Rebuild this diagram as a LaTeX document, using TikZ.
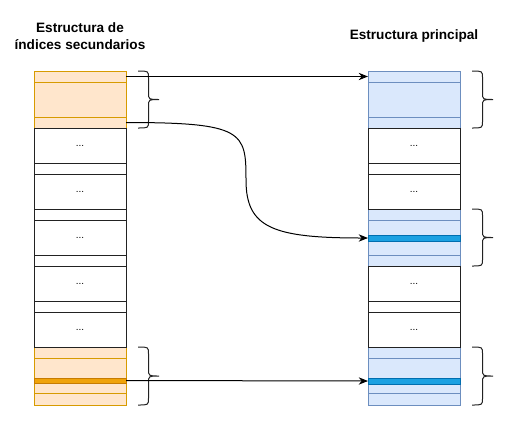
\documentclass[tikz,border=0pt]{standalone}
\usepackage{fontspec}
\setmainfont{Liberation Sans}
\usetikzlibrary{arrows.meta}
\definecolor{orfill}{HTML}{FFE6CC}
\definecolor{orline}{HTML}{D79B00}
\definecolor{orbar}{HTML}{F0A30A}
\definecolor{orbarline}{HTML}{C77C00}
\definecolor{blfill}{HTML}{DAE8FC}
\definecolor{blline}{HTML}{6C8EBF}
\definecolor{blbar}{HTML}{1BA1E2}
\definecolor{blbarline}{HTML}{006EAF}
\definecolor{cellline}{HTML}{222222}
\tikzset{
  cellbase/.style={rectangle, inner sep=0pt, outer sep=0pt, minimum width=69pt, line width=0.75pt, anchor=north west, font=\fontsize{7.5}{8}\selectfont},
  orcell/.style={cellbase, draw=orline, fill=orfill},
  orbarcell/.style={cellbase, draw=orbarline, fill=orbar},
  blcell/.style={cellbase, draw=blline, fill=blfill},
  blbarcell/.style={cellbase, draw=blbarline, fill=blbar},
  whcell/.style={cellbase, draw=cellline, fill=white},
  link/.style={draw=black, line width=0.75pt, -{Stealth[length=7pt,width=5.5pt]}},
  bracestyle/.style={draw=cellline, line width=0.75pt},
  title/.style={font=\fontsize{10.2}{12.75}\selectfont\bfseries, align=center, inner sep=0pt}
}
\newcommand{\mkcell}[6]{\node[#5, minimum height=#4*0.75pt] (#1) at (#2,#3) {#6};}
\newcommand{\mkbrace}[3]{% x0, ytop, ybottom
  \draw[bracestyle] (#1,#2) .. controls (#1+10.5,#2) .. (#1+10.5,#2+7)
    -- (#1+10.5,{(#2+#3)/2-7}) .. controls (#1+10.5,{(#2+#3)/2}) .. (#1+21,{(#2+#3)/2})
    .. controls (#1+10.5,{(#2+#3)/2}) .. (#1+10.5,{(#2+#3)/2+7})
    -- (#1+10.5,#3-7) .. controls (#1+10.5,#3) .. (#1,#3);}
\begin{document}
\begin{tikzpicture}[x=0.75pt,y=-0.75pt]
\useasboundingbox (0,0) rectangle (506,429);
% titles
\node[title] (t1) at (80,36) {Estructura de\\índices secundarios};
\node[title] (t2) at (414,36) {Estructura principal};
% left column
\mkcell{L1}{34}{71}{11}{orcell}{}
\mkcell{L2}{34}{82}{35}{orcell}{}
\mkcell{L3}{34}{117}{11}{orcell}{}
\mkcell{LB1}{34}{347}{11.5}{orcell}{}
\mkcell{LB2}{34}{358.5}{19.5}{orcell}{}
\mkcell{LB3}{34}{383}{10}{orcell}{}
\mkcell{LB4}{34}{393}{12}{orcell}{}
\mkcell{LBbar}{34}{378}{5}{orbarcell}{}
\mkcell{LW1}{34}{128}{35}{whcell}{...}
\mkcell{LS1}{34}{163}{11}{whcell}{}
\mkcell{LW2}{34}{174}{35}{whcell}{...}
\mkcell{LS2}{34}{209}{11}{whcell}{}
\mkcell{LW3}{34}{220}{35}{whcell}{...}
\mkcell{LS3}{34}{255}{11}{whcell}{}
\mkcell{LW4}{34}{266}{35}{whcell}{...}
\mkcell{LS4}{34}{301}{11}{whcell}{}
\mkcell{LW5}{34}{312}{35}{whcell}{...}
% right column
\mkcell{R1}{368}{71}{11}{blcell}{}
\mkcell{R2}{368}{82}{35}{blcell}{}
\mkcell{R3}{368}{117}{11}{blcell}{}
\mkcell{RM1}{368}{209}{11.5}{blcell}{}
\mkcell{RM2}{368}{220.5}{14.5}{blcell}{}
\mkcell{RM3}{368}{241}{14.5}{blcell}{}
\mkcell{RM4}{368}{255.5}{11}{blcell}{}
\mkcell{RMbar}{368}{235}{6}{blbarcell}{}
\mkcell{RB1}{368}{347}{11.5}{blcell}{}
\mkcell{RB2}{368}{358.5}{19.5}{blcell}{}
\mkcell{RB3}{368}{384}{9}{blcell}{}
\mkcell{RB4}{368}{393}{12}{blcell}{}
\mkcell{RBbar}{368}{378}{6}{blbarcell}{}
\mkcell{RW1}{368}{128}{35}{whcell}{...}
\mkcell{RS1}{368}{163}{11}{whcell}{}
\mkcell{RW2}{368}{174}{35}{whcell}{...}
\mkcell{RW3}{368}{266}{35}{whcell}{...}
\mkcell{RS3}{368}{301}{11}{whcell}{}
\mkcell{RW4}{368}{312}{35}{whcell}{...}
% braces
\mkbrace{138}{71}{128}
\mkbrace{138}{347}{405}
\mkbrace{472}{71}{128}
\mkbrace{472}{209}{266}
\mkbrace{472}{347}{405}
% connectors
\coordinate (cm) at (246,180);
\draw[link] (L1.east) -- (R1.west);
\draw[link] (L3.east) .. controls +(118,0) and +(0,-48) .. (cm)
  .. controls +(0,48) and +(-95,0) .. (RMbar.west);
\draw[link] (LBbar.east) -- (RBbar.west);
\end{tikzpicture}
\end{document}
